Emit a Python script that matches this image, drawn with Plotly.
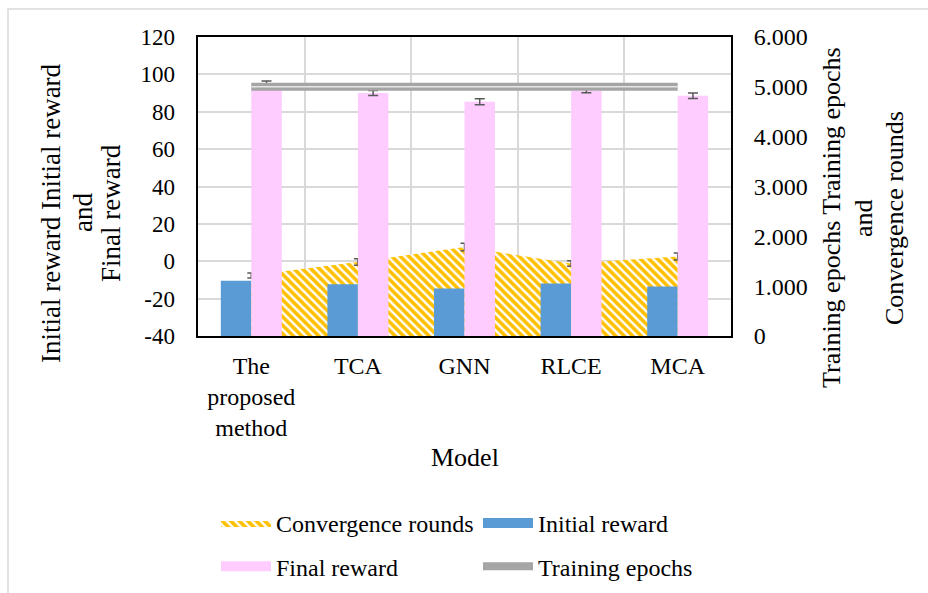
import plotly.graph_objects as go

# ---------------- data ----------------
models = ["The<br>proposed<br>method", "TCA", "GNN", "RLCE", "MCA"]
initial_reward = [-10.5, -12.3, -14.6, -11.9, -13.5]
final_reward = [95.0, 90.0, 85.4, 91.3, 88.6]
final_reward_err = [1.5, 1.35, 1.6, 1.1, 1.5]
convergence_rounds = [1215, 1485, 1785, 1455, 1595]
convergence_err = [50, 65, 75, 55, 70]
training_epochs = [5000, 5000, 5000, 5000, 5000]

left_tickvals = [-40, -20, 0, 20, 40, 60, 80, 100, 120]
left_ticktext = ["-40", "-20", "0", "20", "40", "60", "80", "100", "120"]
right_tickvals = [0, 1000, 2000, 3000, 4000, 5000, 6000]
right_ticktext = ["0", "1.000", "2.000", "3.000", "4.000", "5.000", "6.000"]
left_title_lines = ["Initial reward Initial reward", "and", "Final reward"]
right_title_lines = ["Training epochs Training epochs", "and", "Convergence rounds"]
left_floor = -40  # bars rise from the bottom of the left axis

FONT = "Liberation Serif"
FS = 24
BLUE = "#5B9BD5"
PINK = "#FFCCFF"
GOLD = "#FFC000"
GREY = "#A5A5A5"
ERR = "#595959"

fig = go.Figure()

# Area (main y axis, right scale) - bottom layer
fig.add_trace(go.Scatter(
    x=models, y=convergence_rounds, name="Convergence rounds",
    mode="lines", line=dict(width=0, color=GOLD),
    fill="tozeroy", fillcolor="rgba(0,0,0,0)",
    fillpattern=dict(shape="\\", fgcolor=GOLD, fgopacity=1, bgcolor="white", size=6, solidity=0.6),
    error_y=dict(type="data", array=convergence_err, color=ERR, thickness=1.5, width=4),
    yaxis="y", legend="legend", legendgroup="a",
))

# Bars (left scale) - middle layer
fig.add_trace(go.Bar(
    x=models, y=[v - left_floor for v in initial_reward], base=left_floor,
    name="Initial reward", marker=dict(color=BLUE, line=dict(width=0)),
    yaxis="y2", showlegend=False,
))
fig.add_trace(go.Bar(
    x=models, y=[v - left_floor for v in final_reward], base=left_floor,
    name="Final reward", marker=dict(color=PINK, line=dict(width=0)),
    error_y=dict(type="data", array=final_reward_err, color=ERR, thickness=1.5, width=5),
    yaxis="y2", showlegend=False,
))

# legend keys for the bar series (wide swatches, as in the original legend)
fig.add_trace(go.Scatter(
    x=[None], y=[None], mode="lines", name="Initial reward",
    line=dict(color=BLUE, width=12), yaxis="y3", legend="legend2", legendgroup="b",
))
fig.add_trace(go.Scatter(
    x=[None], y=[None], mode="lines", name="Final reward",
    line=dict(color=PINK, width=12), yaxis="y3", legend="legend", legendgroup="c",
))

# Line (right scale) - top layer
fig.add_trace(go.Scatter(
    x=models, y=training_epochs, name="Training epochs", mode="lines",
    line=dict(color=GREY, width=8), yaxis="y3", legend="legend2", legendgroup="d",
))
fig.add_trace(go.Scatter(
    x=models, y=training_epochs, mode="lines", showlegend=False, hoverinfo="skip",
    line=dict(color="#E6E6E6", width=1.5), yaxis="y3",
))

# The window shows the top 593 px; the page is a little taller so that the
# legend never forces plotly to shrink the plot area.
W, H = 928, 640
ml, mr, mt = 198, 197, 37
ph = 299
mb = H - mt - ph
pw = W - ml - mr


def px(x):
    return (x - ml) / pw


def py(y):
    return (mt + ph - y) / ph


annotations = []
for txt, xc in zip(left_title_lines, [51, 83, 111]):
    annotations.append(dict(text=txt, textangle=-90, x=px(xc), y=py(213), xref="paper", yref="paper",
                            showarrow=False, xanchor="center", yanchor="middle",
                            font=dict(family=FONT, size=27)))
for txt, xc in zip(right_title_lines, [831, 863, 894]):
    annotations.append(dict(text=txt, textangle=-90, x=px(xc), y=py(218), xref="paper", yref="paper",
                            showarrow=False, xanchor="center", yanchor="middle",
                            font=dict(family=FONT, size=26)))
annotations.append(dict(text="Model", x=0.5, y=py(457), xref="paper", yref="paper", showarrow=False,
                        xanchor="center", yanchor="middle", font=dict(family=FONT, size=26)))

fig.update_layout(
    width=W, height=H,
    margin=dict(l=ml, r=mr, t=mt, b=mb, pad=0),
    paper_bgcolor="white", plot_bgcolor="white",
    font=dict(family=FONT, size=FS, color="black"),
    barmode="group", bargap=0.428, bargroupgap=0,
    showlegend=True,
    xaxis=dict(
        type="category", tickson="boundaries", showgrid=True, gridcolor="#D9D9D9", gridwidth=1.5,
        ticks="", showline=True, mirror=True, linecolor="black", linewidth=2,
        tickfont=dict(family=FONT, size=FS), ticklabelstandoff=7, automargin=False,
    ),
    yaxis=dict(
        side="right", range=[0, 6000], tickvals=right_tickvals, ticktext=right_ticktext,
        showgrid=False, zeroline=False, showline=True, mirror=True, linecolor="black", linewidth=2,
        ticks="", ticklabelstandoff=16, tickfont=dict(family=FONT, size=FS), automargin=False,
    ),
    yaxis2=dict(
        overlaying="y", side="left", range=[-40, 120], tickvals=left_tickvals, ticktext=left_ticktext,
        showgrid=True, gridcolor="#D9D9D9", gridwidth=1.5, zeroline=False, showline=False,
        ticks="", ticklabelstandoff=22, tickfont=dict(family=FONT, size=FS - 1), automargin=False,
    ),
    yaxis3=dict(
        overlaying="y", side="right", range=[0, 6000], visible=False, showgrid=False, zeroline=False,
    ),
    legend=dict(
        x=px(216), y=py(501), xanchor="left", yanchor="top", orientation="v",
        traceorder="grouped", tracegroupgap=9, itemwidth=50,
        font=dict(family=FONT, size=FS), bgcolor="rgba(0,0,0,0)",
    ),
    legend2=dict(
        x=px(478), y=py(501), xanchor="left", yanchor="top", orientation="v",
        traceorder="grouped", tracegroupgap=9, itemwidth=50,
        font=dict(family=FONT, size=FS), bgcolor="rgba(0,0,0,0)",
    ),
    annotations=annotations,
    shapes=[
        dict(type="rect", xref="paper", yref="paper", x0=px(8), x1=px(W + 20), y0=py(H + 20), y1=py(9),
             line=dict(color="#D9D9D9", width=1.5), fillcolor="rgba(0,0,0,0)", layer="below"),
    ],
)

fig.write_html(
    "out.html",
    config={"displayModeBar": False},
    post_script=("document.body.style.margin='0px';document.body.style.overflow='hidden';"
                 "document.documentElement.style.overflow='hidden';"),
)
